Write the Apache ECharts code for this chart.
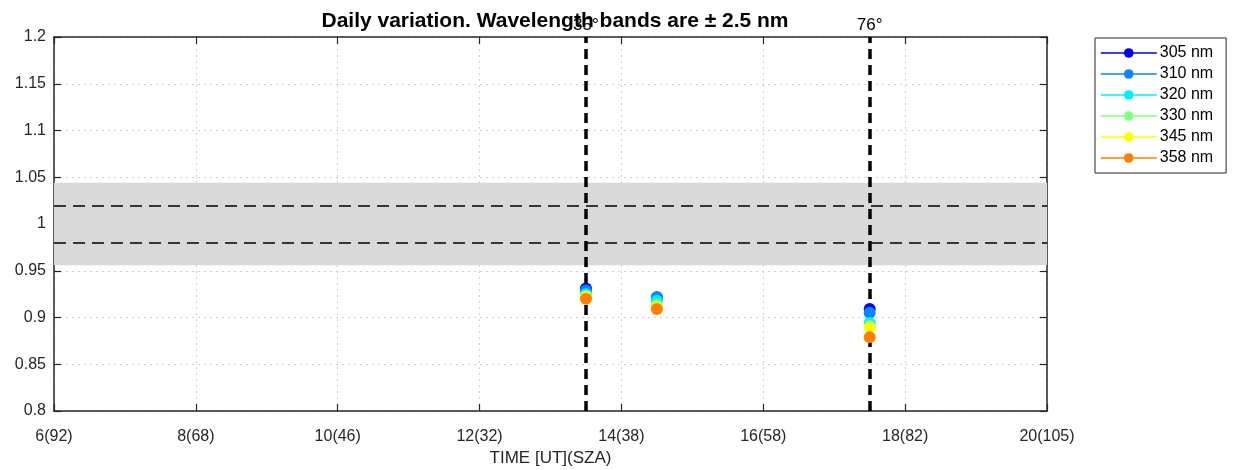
<!DOCTYPE html>
<html><head><meta charset="utf-8">
<script src="https://cdn.jsdelivr.net/npm/echarts@6/dist/echarts.min.js"></script>
<style>html,body{margin:0;padding:0;background:#fff}#c{width:1233px;height:470px}</style>
</head><body><div id="c"></div>
<script>
// ---- data ----
const times = [13.5, 14.5, 17.5];
const seriesNames = ['305 nm', '310 nm', '320 nm', '330 nm', '345 nm', '358 nm'];
const v305 = [0.931, 0.921, 0.909];
const v310 = [0.929, 0.922, 0.905];
const v320 = [0.925, 0.918, 0.894];
const v330 = [0.923, 0.913, 0.891];
const v345 = [0.922, 0.911, 0.889];
const v358 = [0.920, 0.909, 0.879];
const xTickValues = [6, 8, 10, 12, 14, 16, 18, 20];
const xTickLabels = ['6(92)', '8(68)', '10(46)', '12(32)', '14(38)', '16(58)', '18(82)', '20(105)'];
const bandLow = 0.956, bandHigh = 1.044;
const dashLevels = [0.9825, 1.0175];
const szaTimes = [13.5, 17.5];
const szaLabels = ['35°', '76°'];
const titleText = 'Daily variation. Wavelength bands are \u00b1 2.5 nm';
const xName = 'TIME [UT](SZA)';

// ---- style ----
const colors = ['#0000f0', '#0a84ff', '#00f0ff', '#80ff80', '#ffff00', '#ff8000'];
const axisColor = '#262626';
const font = 'Liberation Sans, Arial, Helvetica, sans-serif';

const allValues = [v305, v310, v320, v330, v345, v358];
const chart = echarts.init(document.getElementById('c'), null, {renderer: 'canvas'});

const dataSeries = seriesNames.map((n, i) => ({
  name: n,
  type: 'line',
  data: times.map((t, j) => [t, allValues[i][j]]),
  symbol: 'circle',
  symbolSize: 12,
  itemStyle: {color: colors[i], opacity: 1},
  lineStyle: {color: colors[i], width: 1.5, opacity: 0},
  z: 5 + i
}));

const bandSeries = {
  name: 'band',
  type: 'line',
  data: [],
  silent: true,
  z: 1,
  markArea: {
    silent: true,
    itemStyle: {color: '#d9d9d9'},
    data: [[{yAxis: bandLow}, {yAxis: bandHigh}]]
  },
  markLine: {
    silent: true,
    symbol: 'none',
    data: dashLevels.map(y => ({
      yAxis: y,
      lineStyle: {color: '#000', width: 1.5, type: [12, 7]},
      label: {show: false}
    }))
  }
};

const szaSeries = {
  name: 'sza',
  type: 'line',
  data: [],
  silent: true,
  z: 30,
  markLine: {
    silent: true,
    symbol: 'none',
    data: szaTimes.map((x, k) => ({
      xAxis: x,
      lineStyle: {color: '#000', width: 3.5, type: [10, 6]},
      label: {show: true, position: 'end', formatter: szaLabels[k], color: '#000',
        fontFamily: font, fontSize: 17, distance: 3}
    }))
  }
};

const labelMap = {};
xTickValues.forEach((v, i) => labelMap[v] = xTickLabels[i]);

chart.setOption({
  animation: false,
  backgroundColor: '#fff',
  textStyle: {fontFamily: font},
  title: {
    text: titleText, left: 550, top: 6, textAlign: 'center',
    textStyle: {fontFamily: font, fontSize: 21, fontWeight: 'bold', color: '#000'},
    z: 40
  },
  grid: {left: 54, right: 186, top: 37, bottom: 59, containLabel: false, outerBoundsMode: 'none'},
  legend: {
    data: seriesNames,
    orient: 'vertical',
    left: 1095, top: 38,
    itemWidth: 56, itemHeight: 12, itemGap: 5,
    padding: [7, 13, 7, 5],
    borderColor: axisColor, borderWidth: 1,
    backgroundColor: '#fff',
    lineStyle: {width: 1.5, opacity: 1},
    textStyle: {fontFamily: font, fontSize: 16, color: '#000', padding: [0, 0, 0, -2]}
  },
  xAxis: [{
    type: 'value', min: 6, max: 20, interval: 2,
    position: 'bottom',
    name: xName, nameLocation: 'middle', nameGap: 38,
    nameTextStyle: {fontFamily: font, fontSize: 17, color: axisColor},
    axisLine: {show: true, lineStyle: {color: axisColor, width: 1.5}},
    axisTick: {show: true, inside: true, length: 7, lineStyle: {color: axisColor, width: 1.2}},
    axisLabel: {fontFamily: font, fontSize: 16, color: axisColor, margin: 18,
      formatter: v => labelMap[v] !== undefined ? labelMap[v] : ''},
    splitLine: {show: true, lineStyle: {color: '#d0d0d0', type: [2, 4], width: 1}}
  }, {
    type: 'value', min: 6, max: 20, interval: 2, position: 'top',
    axisLine: {show: true, lineStyle: {color: axisColor, width: 1.5}},
    axisTick: {show: true, inside: true, length: 7, lineStyle: {color: axisColor, width: 1.2}},
    axisLabel: {show: false}, splitLine: {show: false}
  }],
  yAxis: [{
    type: 'value', min: 0.8, max: 1.2, interval: 0.05, position: 'left',
    axisLine: {show: true, lineStyle: {color: axisColor, width: 1.5}},
    axisTick: {show: true, inside: true, length: 7, lineStyle: {color: axisColor, width: 1.2}},
    axisLabel: {fontFamily: font, fontSize: 16, color: axisColor, margin: 8,
      formatter: v => String(Math.round(v * 100) / 100)},
    splitLine: {show: true, lineStyle: {color: '#d0d0d0', type: [2, 4], width: 1}}
  }, {
    type: 'value', min: 0.8, max: 1.2, interval: 0.05, position: 'right',
    axisLine: {show: true, lineStyle: {color: axisColor, width: 1.5}},
    axisTick: {show: true, inside: true, length: 7, lineStyle: {color: axisColor, width: 1.2}},
    axisLabel: {show: false}, splitLine: {show: false}
  }],
  series: [bandSeries].concat(dataSeries, [szaSeries])
});
</script>
</body></html>
